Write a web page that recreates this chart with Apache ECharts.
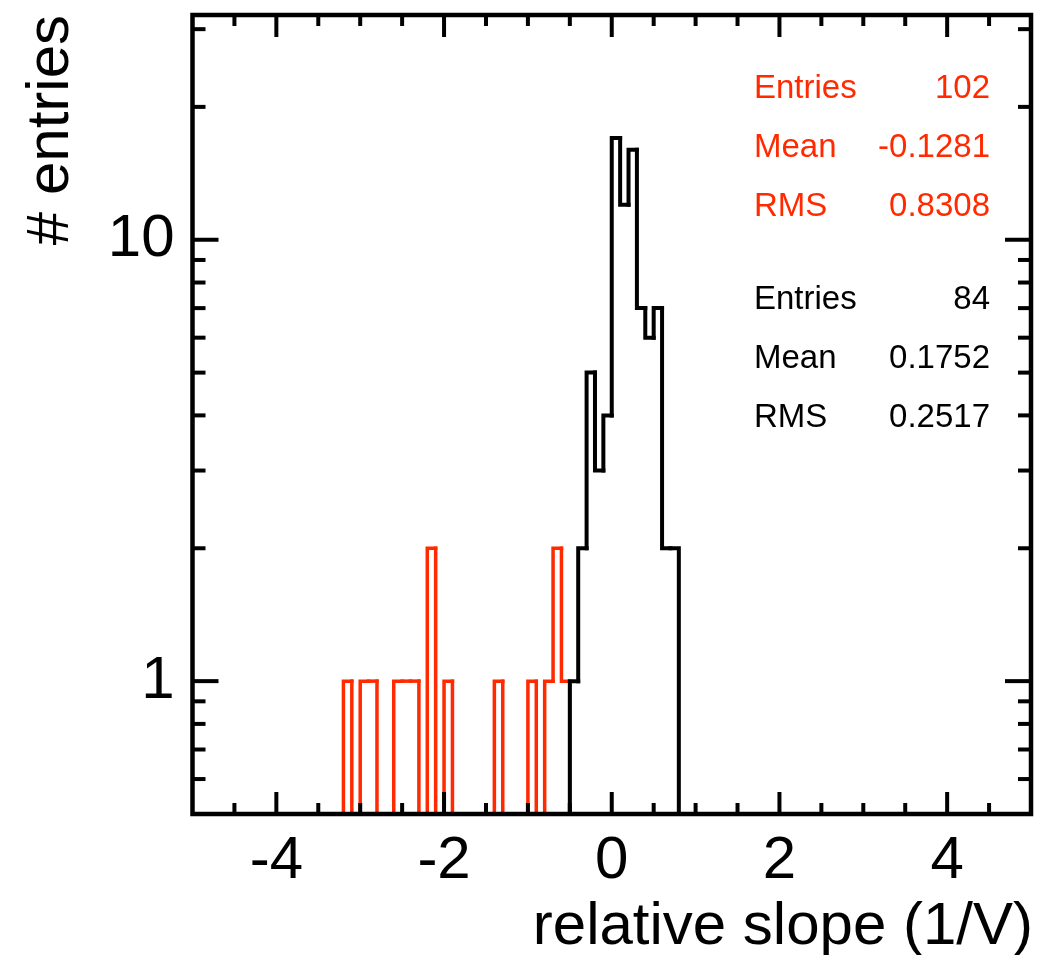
<!DOCTYPE html>
<html><head><meta charset="utf-8">
<script src="https://cdn.jsdelivr.net/npm/echarts@6/dist/echarts.min.js"></script>
<style>html,body{margin:0;padding:0;background:#fff}#c{width:1052px;height:955px}</style>
</head><body><div id="c"></div>
<script>
// ---- data ----
const binWidth = 0.1;
const redFirstEdge = -3.2;
const redCounts = [1,0,1,1,0,0,1,1,1,0,2,0,1,0,0,0,0,0,1,0,0,0,1,0,1,2,1];
const blackFirstEdge = -0.5;
const blackCounts = [1,2,5,3,4,17,12,16,7,6,7,2,2];
const xRange = [-5, 5];
const yRange = [0.5, 32.3];
const xTickLabels = [-4, -2, 0, 2, 4];
const xMinorTicks = [-4.5,-3.5,-3,-2.5,-1.5,-1,-0.5,0.5,1,1.5,2.5,3,3.5,4.5];
const yTickLabels = [1, 10];
const yMinorTicks = [0.6,0.7,0.8,0.9,2,3,4,5,6,7,8,9,20,30];
const redStats = [['Entries','102'],['Mean','-0.1281'],['RMS','0.8308']];
const blackStats = [['Entries','84'],['Mean','0.1752'],['RMS','0.2517']];
const xTitle = 'relative slope (1/V)';
const yTitle = '# entries';

const RED = '#ff2a00';
const FONT = "'Liberation Sans', Arial, Helvetica, sans-serif";

function histSeries(name, first, counts, color, lw, z) {
  const data = counts.map((c, i) => [Math.round((first + i * binWidth) * 100) / 100, c]);
  return {
    type: 'custom', name, data, clip: false, z,
    encode: { x: 0, y: 1 },
    renderItem(params, api) {
      const i = params.dataIndex;
      const x0 = api.value(0), x1 = x0 + binWidth;
      const c = counts[i];
      const prev = i > 0 ? counts[i - 1] : 0;
      const lvl = v => (v > 0 ? v : yRange[0]);
      if (c <= 0 && prev <= 0) return null;
      const pts = [api.coord([x0, lvl(prev)])];
      if (c > 0) {
        pts.push(api.coord([x0, c]), api.coord([x1, c]));
        if (i === counts.length - 1) pts.push(api.coord([x1, yRange[0]]));
      } else {
        pts.push(api.coord([x0, yRange[0]]));
      }
      return { type: 'polyline', shape: { points: pts },
        style: { stroke: color, lineWidth: lw, fill: null, lineCap: 'square', lineJoin: 'miter' } };
    }
  };
}

function xTickSeries(values, len) {
  return {
    type: 'custom', clip: false, z: 12, silent: true,
    data: values.map(v => [v, yRange[0]]),
    renderItem(params, api) {
      const x = api.value(0);
      const b = api.coord([x, yRange[0]]), t = api.coord([x, yRange[1]]);
      const st = { stroke: '#000', lineWidth: 4 };
      return { type: 'group', children: [
        { type: 'line', shape: { x1: b[0], y1: b[1], x2: b[0], y2: b[1] - len }, style: st },
        { type: 'line', shape: { x1: t[0], y1: t[1], x2: t[0], y2: t[1] + len }, style: st }
      ] };
    }
  };
}
function yTickSeries(values, len) {
  return {
    type: 'custom', clip: false, z: 12, silent: true,
    data: values.map(v => [xRange[0], v]),
    renderItem(params, api) {
      const y = api.value(1);
      const l = api.coord([xRange[0], y]), r = api.coord([xRange[1], y]);
      const st = { stroke: '#000', lineWidth: 4 };
      return { type: 'group', children: [
        { type: 'line', shape: { x1: l[0], y1: l[1], x2: l[0] + len, y2: l[1] }, style: st },
        { type: 'line', shape: { x1: r[0], y1: r[1], x2: r[0] - len, y2: r[1] }, style: st }
      ] };
    }
  };
}

function statTexts(rows, color, y0, dy) {
  const out = [];
  rows.forEach((r, k) => {
    out.push({ type: 'text', x: 754, y: y0 + k * dy, z: 20,
      style: { text: r[0], fill: color, font: '33px ' + FONT, align: 'left', verticalAlign: 'middle' } });
    out.push({ type: 'text', x: 990, y: y0 + k * dy, z: 20,
      style: { text: r[1], fill: color, font: '33px ' + FONT, align: 'right', verticalAlign: 'middle' } });
  });
  return out;
}

const chart = echarts.init(document.getElementById('c'), null, { renderer: 'canvas' });
chart.setOption({
  animation: false,
  backgroundColor: '#fff',
  grid: { left: 192.5, right: 21, top: 15, bottom: 141, show: true, z: 10,
          borderColor: '#000', borderWidth: 4.5, backgroundColor: 'rgba(0,0,0,0)' },
  xAxis: {
    type: 'value', min: xRange[0], max: xRange[1], interval: 1,
    axisLine: { show: false }, axisTick: { show: false }, splitLine: { show: false },
    axisLabel: { margin: 17, color: '#000', fontSize: 60, fontFamily: FONT,
      formatter: v => (xTickLabels.some(t => Math.abs(t - v) < 1e-9) ? String(Math.round(v)) : '') }
  },
  yAxis: {
    type: 'log', logBase: 10, min: yRange[0], max: yRange[1],
    axisLine: { show: false }, axisTick: { show: false }, splitLine: { show: false },
    axisLabel: { margin: 18, color: '#000', fontSize: 60, fontFamily: FONT,
      formatter: v => (yTickLabels.some(t => Math.abs(t - v) / t < 1e-6) ? String(Math.round(v)) : '') }
  },
  graphic: [
    { type: 'text', x: 51, y: 15, rotation: Math.PI / 2, z: 20,
      style: { text: yTitle, fill: '#000', font: '60px ' + FONT, align: 'right', verticalAlign: 'middle' } },
    { type: 'text', x: 1033, y: 927, z: 20,
      style: { text: xTitle, fill: '#000', font: '60px ' + FONT, align: 'right', verticalAlign: 'middle' } }
  ].concat(statTexts(redStats, RED, 89, 59), statTexts(blackStats, '#000', 300, 59)),
  series: [
    histSeries('red', redFirstEdge, redCounts, RED, 3.5, 3),
    histSeries('black', blackFirstEdge, blackCounts, '#000', 4, 4),
    xTickSeries(xMinorTicks, 11),
    xTickSeries(xTickLabels, 22),
    yTickSeries(yMinorTicks, 13),
    yTickSeries(yTickLabels, 26)
  ]
});
</script></body></html>
